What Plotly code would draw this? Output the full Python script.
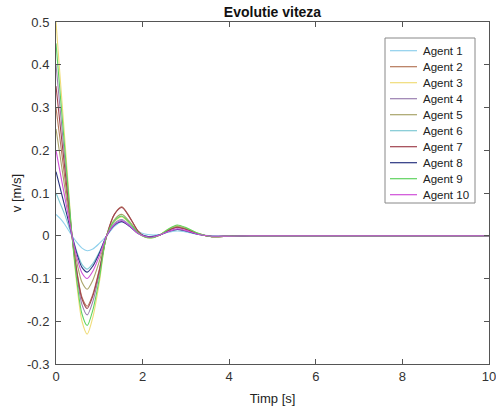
import plotly.graph_objects as go

# Time samples [s]
t = [0, 0.1, 0.2, 0.3, 0.37, 0.5, 0.6, 0.72, 0.85, 1.0, 1.17, 1.35, 1.52,
     1.7, 1.9, 2.05, 2.2, 2.4, 2.6, 2.8, 3.0, 3.3, 3.6, 4.0, 4.5, 10]

# Velocity of each agent [m/s]
agent1 = [0.05, 0.04, 0.027, 0.011, 0, -0.018, -0.029, -0.035, -0.031, -0.018, 0, 0.022, 0.033,
          0.025, 0.01, 0.004, 0.002, 0.003, 0.008, 0.011, 0.009, 0.003, 0, -0.001, 0, 0]
agent2 = [0.30, 0.22, 0.138, 0.057, 0, -0.094, -0.144, -0.165, -0.137, -0.079, 0, 0.051, 0.068,
          0.044, 0.01, -0.002, -0.004, 0.002, 0.013, 0.02, 0.015, 0.004, -0.002, -0.001, 0, 0]
agent3 = [0.50, 0.365, 0.23, 0.095, 0, -0.131, -0.2, -0.23, -0.191, -0.11, 0, 0.033, 0.044,
          0.029, 0.007, -0.003, -0.005, 0.002, 0.016, 0.024, 0.018, 0.005, -0.002, -0.001, 0, 0]
agent4 = [0.40, 0.292, 0.184, 0.076, 0, -0.105, -0.161, -0.185, -0.154, -0.089, 0, 0.029, 0.038,
          0.025, 0.006, -0.002, -0.004, 0.002, 0.013, 0.02, 0.015, 0.004, -0.002, -0.001, 0, 0]
agent5 = [0.25, 0.183, 0.115, 0.048, 0, -0.071, -0.109, -0.125, -0.104, -0.06, 0, 0.038, 0.05,
          0.033, 0.008, -0.002, -0.004, 0.002, 0.014, 0.022, 0.017, 0.004, -0.002, -0.001, 0, 0]
agent6 = [0.10, 0.075, 0.05, 0.02, 0, -0.043, -0.067, -0.078, -0.065, -0.038, 0, 0.027, 0.036,
          0.024, 0.006, 0, -0.002, 0.002, 0.01, 0.015, 0.011, 0.003, -0.001, -0.001, 0, 0]
agent7 = [0.35, 0.255, 0.161, 0.066, 0, -0.097, -0.148, -0.17, -0.141, -0.082, 0, 0.05, 0.066,
          0.043, 0.01, -0.002, -0.004, 0.002, 0.013, 0.02, 0.015, 0.004, -0.002, -0.001, 0, 0]
agent8 = [0.15, 0.11, 0.07, 0.029, 0, -0.048, -0.074, -0.085, -0.071, -0.041, 0, 0.025, 0.033,
          0.022, 0.005, 0, -0.002, 0.002, 0.01, 0.015, 0.011, 0.003, -0.001, -0.001, 0, 0]
agent9 = [0.45, 0.328, 0.207, 0.085, 0, -0.12, -0.183, -0.21, -0.174, -0.101, 0, 0.035, 0.046,
          0.03, 0.007, -0.003, -0.005, 0.002, 0.016, 0.025, 0.019, 0.005, -0.002, -0.001, 0, 0]
agent10 = [0.20, 0.146, 0.092, 0.038, 0, -0.057, -0.087, -0.1, -0.083, -0.048, 0, 0.026, 0.035,
           0.023, 0.005, -0.001, -0.003, 0.002, 0.01, 0.016, 0.012, 0.003, -0.001, -0.001, 0, 0]

names = ["Agent 1", "Agent 2", "Agent 3", "Agent 4", "Agent 5",
         "Agent 6", "Agent 7", "Agent 8", "Agent 9", "Agent 10"]
series = [agent1, agent2, agent3, agent4, agent5, agent6, agent7, agent8, agent9, agent10]
colors = ["#8fd0ec", "#b5785a", "#f0dc78", "#9a7fb0", "#a9a46a",
          "#7fc9d4", "#a0424f", "#2a3580", "#5fd35f", "#d050d8"]

x_ticks = [0, 2, 4, 6, 8, 10]
y_ticks = [-0.3, -0.2, -0.1, 0, 0.1, 0.2, 0.3, 0.4, 0.5]
y_labels = ["-0.3", "-0.2", "-0.1", "0", "0.1", "0.2", "0.3", "0.4", "0.5"]

W, H = 496, 407
L, R, T, B = 56, 7, 22, 43

fig = go.Figure()
for name, v, c in zip(names, series, colors):
    fig.add_trace(go.Scatter(x=t, y=v, mode="lines", name=name,
                             line=dict(color=c, width=1.1, shape="spline", smoothing=0.8),
                             showlegend=False))

font_main = "Liberation Sans, Arial, sans-serif"
axis_common = dict(showline=True, linecolor="#555555", linewidth=1, mirror="ticks",
                   ticks="inside", ticklen=5, tickcolor="#555555", showgrid=False,
                   zeroline=False, ticklabeloverflow="allow", automargin=False,
                   tickfont=dict(size=13, color="#333333", family=font_main))

fig.update_xaxes(range=[0, 10], tickvals=x_ticks, **axis_common,
                 title=dict(text="Timp [s]", font=dict(size=13, color="#222222", family=font_main),
                            standoff=11))
fig.update_yaxes(range=[-0.3, 0.5], tickvals=y_ticks, ticktext=y_labels, ticklabelstandoff=3,
                 **axis_common,
                 title=dict(text="v [m/s]", font=dict(size=13, color="#222222", family=font_main),
                            standoff=2))

# Legend box drawn in pixel-mapped paper coordinates
pw, ph = W - L - R, H - T - B
def px(xp):
    return (xp - L) / pw
def py(yp):
    return (H - B - yp) / ph

shapes = [dict(type="rect", xref="paper", yref="paper",
               x0=px(385), x1=px(475), y0=py(203), y1=py(38),
               line=dict(color="#888888", width=1), fillcolor="white", layer="above")]
annotations = []
for i, (name, c) in enumerate(zip(names, colors)):
    yc = 50.7 + i * 16.0
    shapes.append(dict(type="line", xref="paper", yref="paper",
                       x0=px(390), x1=px(417), y0=py(yc), y1=py(yc),
                       line=dict(color=c, width=1.2), layer="above"))
    annotations.append(dict(xref="paper", yref="paper", x=px(421), y=py(yc),
                            xanchor="left", yanchor="middle", showarrow=False,
                            text=name, font=dict(size=11.5, color="#222222", family=font_main)))

fig.update_layout(
    width=W, height=H,
    margin=dict(l=L, r=R, t=T, b=B),
    paper_bgcolor="white", plot_bgcolor="white",
    title=dict(text="<b>Evolutie viteza</b>", x=(L + pw / 2) / W, xanchor="center",
               y=1 - 12.5 / H, yanchor="middle",
               font=dict(size=14, color="#111111", family=font_main)),
    shapes=shapes, annotations=annotations,
    showlegend=False,
)

fig.write_html("out.html")
